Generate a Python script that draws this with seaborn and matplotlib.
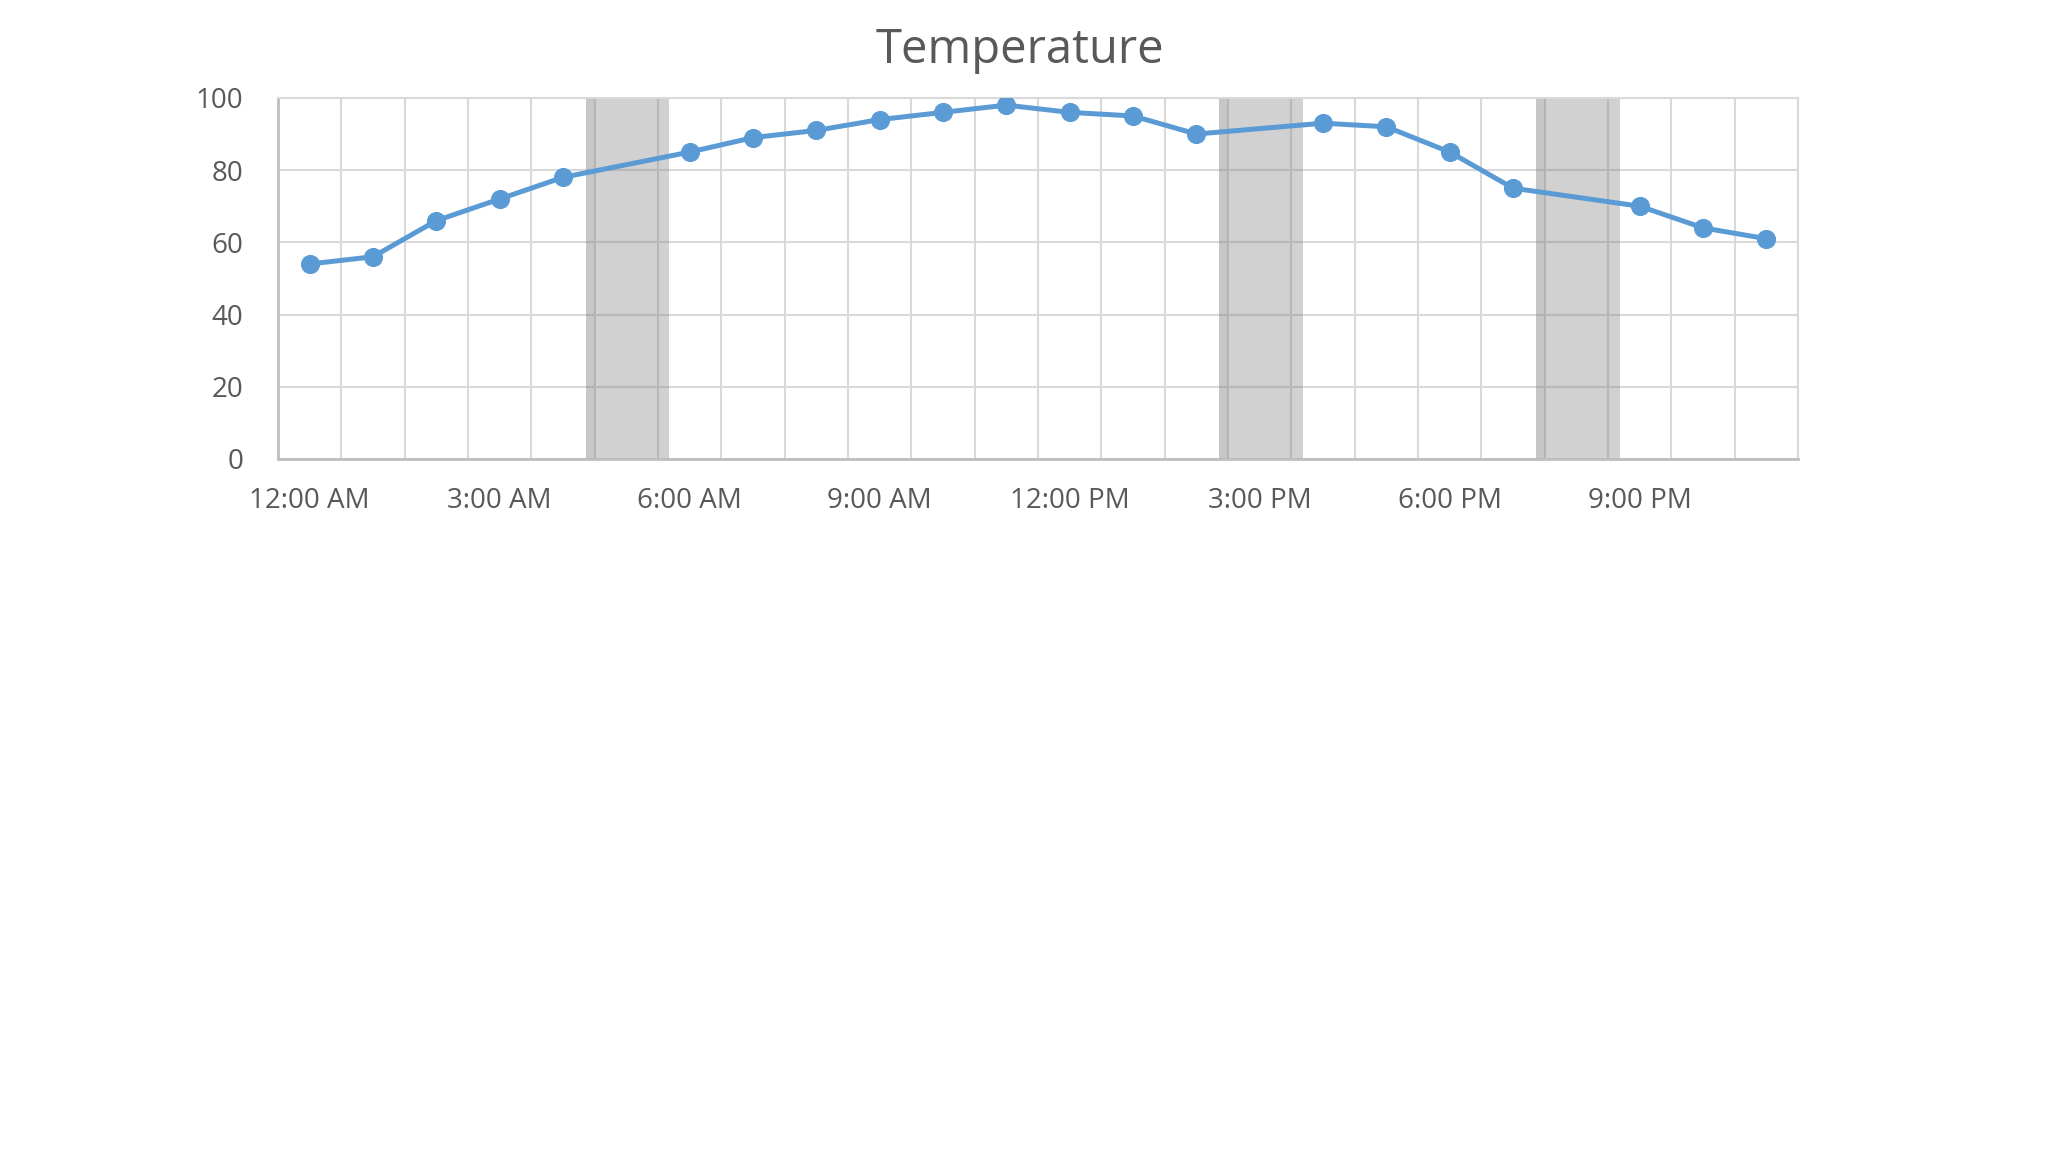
import numpy as np
import pandas as pd
import matplotlib.pyplot as plt
import seaborn as sns

# Hourly readings (NaN = no reading for that hour)
hour_index = list(range(24))
temperature = [54, 56, 66, 72, 78, np.nan, 85, 89, 91, 94, 96, 98,
               96, 95, 90, np.nan, 93, 92, 85, 75, np.nan, 70, 64, 61]
gap_hours = [5, 15, 20]
tick_hours = [0, 3, 6, 9, 12, 15, 18, 21]
tick_labels = ["12:00 AM", "3:00 AM", "6:00 AM", "9:00 AM",
               "12:00 PM", "3:00 PM", "6:00 PM", "9:00 PM"]
y_ticks = [0, 20, 40, 60, 80, 100]

sns.set_theme(style="white")
plt.rcParams['font.family'] = ['Open Sans', 'DejaVu Sans']

line_color = "#5b9bd5"
grid_color = "#d9d9d9"
text_color = "#595959"

df = pd.DataFrame({"hour": hour_index, "temp": temperature})

fig = plt.figure(figsize=(20.48, 11.52), dpi=100)
ax = fig.add_axes([0.1357, 0.6016, 0.878 - 0.1357, 0.915 - 0.6016])

# grid at category boundaries
for b in np.arange(-0.5, 24.0, 1.0):
    ax.axvline(b, color=grid_color, lw=1.5, zorder=0)
for yv in y_ticks:
    ax.axhline(yv, color=grid_color, lw=1.5, zorder=0)

# shaded bands over the missing hours
for h in gap_hours:
    ax.axvspan(h - 0.64, h + 0.68, color="#808080", alpha=0.36, lw=0, zorder=1)
    ax.axvspan(h - 0.64, h - 0.5, color="#808080", alpha=0.12, lw=0, zorder=1)

sns.lineplot(data=df, x="hour", y="temp", ax=ax, color=line_color,
             linewidth=3.6, marker="o", markersize=13,
             markeredgecolor=line_color, zorder=3)

ax.set_xlim(-0.5, 23.5)
ax.set_ylim(0, 100)
ax.set_xticks(tick_hours)
ax.set_xticklabels(tick_labels)
ax.set_yticks(y_ticks)
ax.tick_params(axis="both", length=0, labelsize=20, colors=text_color)
ax.tick_params(axis="x", pad=20)
ax.tick_params(axis="y", pad=25)
ax.set_xlabel("")
ax.set_ylabel("")

for side in ["top", "right"]:
    ax.spines[side].set_color(grid_color)
    ax.spines[side].set_linewidth(1.5)
for side in ["left", "bottom"]:
    ax.spines[side].set_color("#bfbfbf")
    ax.spines[side].set_linewidth(2)

fig.text(0.498, 0.956, "Temperature", ha="center", va="center",
         fontsize=34, color=text_color)

fig.savefig("out.png", dpi=100, facecolor="white")
